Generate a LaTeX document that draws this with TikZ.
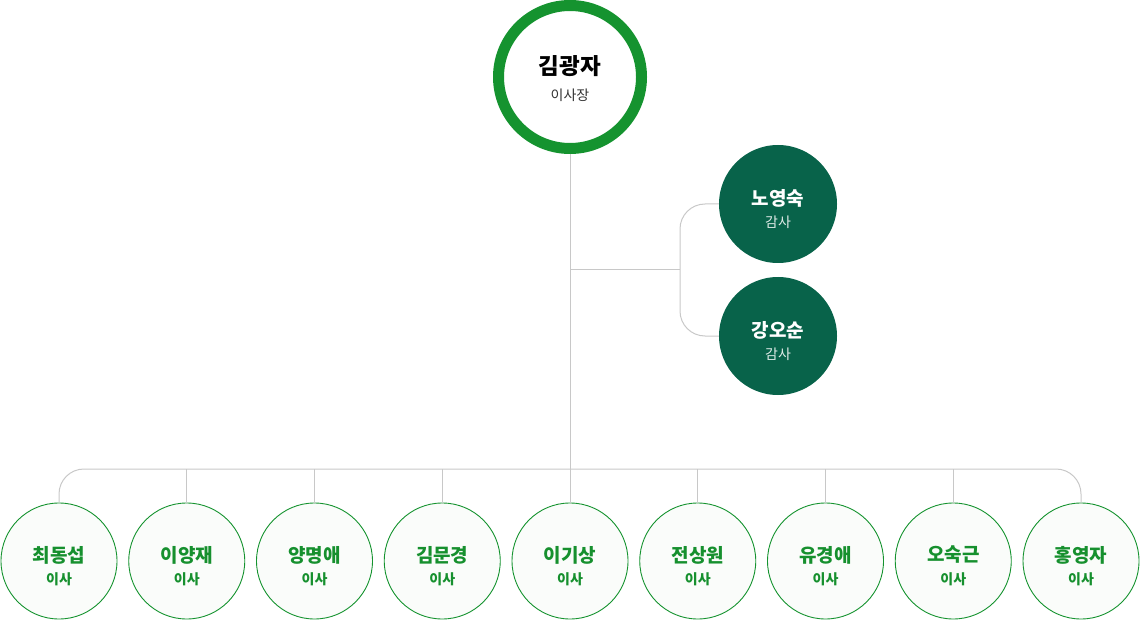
\documentclass[tikz,border=0pt]{standalone}
\usepackage{fontspec}
\setmainfont{Noto Sans CJK KR}
\definecolor{ringgreen}{HTML}{15932F}
\definecolor{auditgreen}{HTML}{08634A}
\definecolor{textgreen}{HTML}{16902E}
\definecolor{memberfill}{HTML}{FAFCFA}
\definecolor{linegray}{HTML}{C8C8C8}
\tikzset{
  chair/.style={circle,draw=ringgreen,line width=11pt,fill=white,minimum size=143pt,inner sep=0pt},
  audit/.style={circle,fill=auditgreen,minimum size=118pt,inner sep=0pt},
  member/.style={circle,draw=ringgreen,line width=0.9pt,fill=memberfill,minimum size=116pt,inner sep=0pt},
  link/.style={draw=linegray,line width=1pt},
  bigname/.style={font=\fontsize{22.5}{25}\selectfont\bfseries,text=black,inner sep=0pt},
  auditname/.style={font=\fontsize{19}{22}\selectfont\bfseries,text=white,inner sep=0pt},
  membername/.style={font=\fontsize{19}{22}\selectfont\bfseries,text=textgreen,inner sep=0pt},
  role/.style={font=\fontsize{14}{16}\selectfont,inner sep=0pt},
}
\begin{document}
\begin{tikzpicture}[x=1pt,y=-1pt]
\useasboundingbox (0,0) rectangle (1140,620);

% chair
\node (top) at (570,77) [chair] {};
\node (topn) at ([yshift=11pt]top) [bigname] {김광자};
\node (topt) at ([yshift=-18pt]top) [role,text=black!80] {이사장};

% auditors
\node (a1) at (778,204) [audit] {};
\node (a1n) at ([yshift=6pt]a1) [auditname] {노영숙};
\node (a1t) at ([yshift=-18pt]a1) [role,text=white!88!auditgreen] {감사};
\node (a2) at (778,336) [audit] {};
\node (a2n) at ([yshift=6pt]a2) [auditname] {강오순};
\node (a2t) at ([yshift=-18pt]a2) [role,text=white!88!auditgreen] {감사};

% members
\foreach \i/\who [evaluate=\i as \xx using 59+(\i-1)*127.75] in
  {1/최동섭,2/이양재,3/양명애,4/김문경,5/이기상,6/전상원,7/유경애,8/오숙근,9/홍영자} {
  \node (m\i) at (\xx,561) [member] {};
  \node (m\i n) at ([yshift=6pt]m\i) [membername] {\who};
  \node (m\i t) at ([yshift=-18pt]m\i) [role,text=textgreen,font=\fontsize{14}{16}\selectfont\bfseries] {이사};
}

\coordinate (ja) at (680,270);
\coordinate (bus) at (570,469);

\draw[link] (top.south) -- (m5.north);
\draw[link] (top.south |- ja) -- (ja);
\draw[link,rounded corners=25pt] (a1.west) -| (ja) |- (a2.west);
\draw[link,rounded corners=25pt] (m1.north) |- (bus) -| (m9.north);
\foreach \i in {2,3,4,6,7,8}
  \draw[link] (m\i.north) -- (m\i.north |- bus);
% \draw[link] (m5.north) -- (bus);
\end{tikzpicture}
\end{document}
